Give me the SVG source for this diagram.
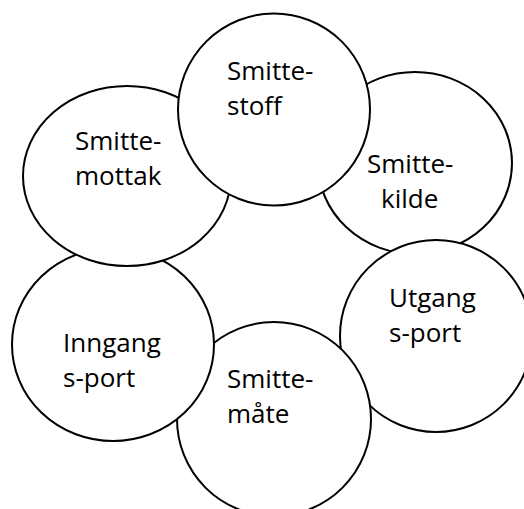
<svg xmlns="http://www.w3.org/2000/svg" width="524" height="509" viewBox="0 0 524 509">
<style>
.n{fill:#fff;stroke:#000;stroke-width:2}
.t{font-family:"Open Sans","Noto Sans","Liberation Sans",sans-serif;font-size:26px;fill:#000}
</style>
<rect width="524" height="509" fill="#fff"/>
<g id="connectors"/>
<g id="smittekilde">
<ellipse class="n" cx="415" cy="163" rx="97" ry="91"/>
<text class="t" x="367" y="173">Smitte-</text>
<text class="t" x="381" y="208">kilde</text>
</g>
<g id="utgangsport">
<ellipse class="n" cx="436" cy="336" rx="96" ry="96"/>
<text class="t" x="389" y="307">Utgang</text>
<text class="t" x="389" y="342">s-port</text>
</g>
<g id="smittemate">
<ellipse class="n" cx="274" cy="419" rx="97" ry="97"/>
<text class="t" x="227" y="388">Smitte-</text>
<text class="t" x="227" y="423">måte</text>
</g>
<g id="inngangsport">
<ellipse class="n" cx="113" cy="344.5" rx="101" ry="96.5"/>
<text class="t" x="63" y="352">Inngang</text>
<text class="t" x="63" y="387">s-port</text>
</g>
<g id="smittemottak">
<ellipse class="n" cx="127" cy="176" rx="104" ry="90"/>
<text class="t" x="75" y="150">Smitte-</text>
<text class="t" x="75" y="185">mottak</text>
</g>
<g id="smittestoff">
<ellipse class="n" cx="274" cy="109.5" rx="96" ry="96"/>
<text class="t" x="227" y="80">Smitte-</text>
<text class="t" x="227" y="115">stoff</text>
</g>
</svg>
